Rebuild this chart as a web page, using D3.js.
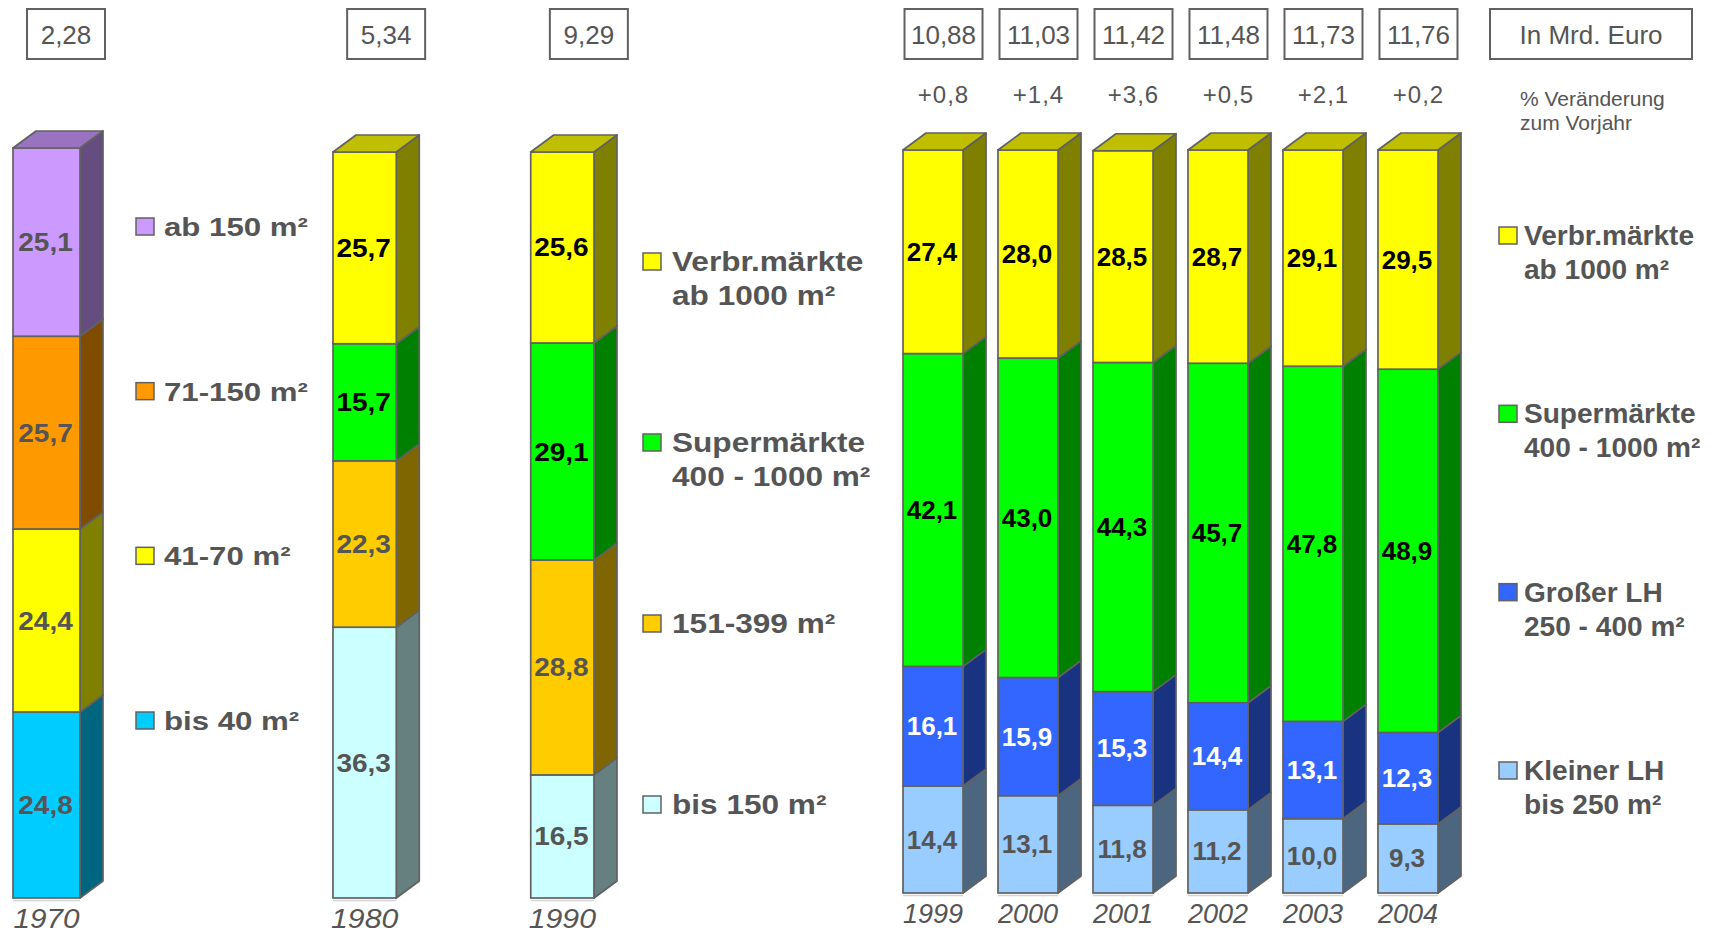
<!DOCTYPE html>
<html>
<head>
<meta charset="utf-8">
<script src="https://cdn.jsdelivr.net/npm/d3@7"></script>
<style>
html, body { margin: 0; padding: 0; background: #fff; }
svg { display: block; }
</style>
</head>
<body>
<div id="chart"></div>
<script>
// ---------------- DATA ----------------
// Panel 1970 (shares in %, bottom to top)
const years1970 = ["1970"];
const series1970 = ["bis 40 m²", "41-70 m²", "71-150 m²", "ab 150 m²"];
const values1970 = [[24.8, 24.4, 25.7, 25.1]];
const totals1970 = ["2,28"];

// Panel 1980 / 1990
const years8090 = ["1980", "1990"];
const series8090 = ["bis 150 m²", "151-399 m²", "Supermärkte\n400 - 1000 m²", "Verbr.märkte\nab 1000 m²"];
const values8090 = [[36.3, 22.3, 15.7, 25.7], [16.5, 28.8, 29.1, 25.6]];
const totals8090 = ["5,34", "9,29"];

// Panel 1999 - 2004
const yearsNew = ["1999", "2000", "2001", "2002", "2003", "2004"];
const seriesNew = ["Kleiner LH\nbis 250 m²", "Großer LH\n250 - 400 m²", "Supermärkte\n400 - 1000 m²", "Verbr.märkte\nab 1000 m²"];
const valuesNew = [
  [14.4, 16.1, 42.1, 27.4],
  [13.1, 15.9, 43.0, 28.0],
  [11.8, 15.3, 44.3, 28.5],
  [11.2, 14.4, 45.7, 28.7],
  [10.0, 13.1, 47.8, 29.1],
  [9.3, 12.3, 48.9, 29.5]
];
const totalsNew = ["10,88", "11,03", "11,42", "11,48", "11,73", "11,76"];
const changesNew = ["+0,8", "+1,4", "+3,6", "+0,5", "+2,1", "+0,2"];
const unitLabel = "In Mrd. Euro";
const changeNote = ["% Veränderung", "zum Vorjahr"];

// ---------------- STYLES ----------------
const colors1970 = ["#00CCFF", "#FFFF00", "#FF9900", "#CC99FF"];
const labelColors1970 = ["#555555", "#555555", "#555555", "#555555"];
const colors8090 = ["#CCFFFF", "#FFCC00", "#00FF00", "#FFFF00"];
const labelColors8090 = ["#555555", "#555555", "#000000", "#000000"];
const colorsNew = ["#99CCFF", "#3366FF", "#00FF00", "#FFFF00"];
const labelColorsNew = ["#555555", "#FFFFFF", "#000000", "#000000"];

const W = 1716, H = 933;
const FONT = "'Liberation Sans', Arial, Helvetica, sans-serif";
const STROKE = "#616161";
const TEXT = "#555555";
const DX = 23, DY = 17;

const svg = d3.select("#chart").append("svg")
  .attr("width", W).attr("height", H)
  .style("font-family", FONT);

function shade(c, k) {
  const r = d3.rgb(c);
  return d3.rgb(r.r * k, r.g * k, r.b * k).formatHex();
}

function drawPanel(cfg) {
  const g = svg.append("g");
  const x = d3.scaleBand().domain(cfg.years).range(cfg.xRange)
    .paddingInner(cfg.padInner).paddingOuter(0);
  const y = d3.scaleLinear().domain([0, 100]).range(cfg.yRange);
  const bw = x.bandwidth();

  const rows = cfg.years.map((yr, i) => {
    const o = { year: yr };
    cfg.series.forEach((s, j) => o[s] = cfg.values[i][j]);
    return o;
  });
  const layers = d3.stack().keys(cfg.series)(rows);
  const nL = layers.length;

  layers.forEach((layer, j) => {
    const col = cfg.colors[j];
    layer.forEach(d => {
      const x0 = x(d.data.year);
      const yb = y(d[0]), yt = y(d[1]);
      g.append("polygon")
        .attr("points", [[x0 + bw, yt], [x0 + bw + DX, yt - DY], [x0 + bw + DX, yb - DY], [x0 + bw, yb]].join(" "))
        .attr("fill", shade(col, 0.5)).attr("stroke", STROKE).attr("stroke-width", 1.7)
        .attr("stroke-linejoin", "round");
      g.append("rect")
        .attr("x", x0).attr("y", yt).attr("width", bw).attr("height", yb - yt)
        .attr("fill", col).attr("stroke", STROKE).attr("stroke-width", 1.7);
      if (j === nL - 1) {
        g.append("polygon")
          .attr("points", [[x0, yt], [x0 + DX, yt - DY], [x0 + bw + DX, yt - DY], [x0 + bw, yt]].join(" "))
          .attr("fill", shade(col, 0.75)).attr("stroke", STROKE).attr("stroke-width", 1.7)
          .attr("stroke-linejoin", "round");
      }
    });
  });

  // value labels
  layers.forEach((layer, j) => {
    layer.forEach(d => {
      const v = d.data[layer.key];
      g.append("text")
        .attr("transform", `translate(${x(d.data.year) + bw / 2 - 1},${y((d[0] + d[1]) / 2)}) scale(${cfg.labelStretch},1)`)
        .attr("dy", "0.36em")
        .attr("text-anchor", "middle")
        .attr("font-weight", "bold")
        .attr("font-size", 25)
        .attr("fill", cfg.labelColors[j])
        .text(d3.format(".1f")(v).replace(".", ","));
    });
  });

  // floor line + year labels
  cfg.years.forEach(yr => {
    g.append("line")
      .attr("x1", x(yr)).attr("x2", x(yr) + bw)
      .attr("y1", y(0) + 2.5).attr("y2", y(0) + 2.5)
      .attr("stroke", "#d4d4d4").attr("stroke-width", 1.5);
    g.append("text")
      .attr("transform", `translate(${x(yr) + bw / 2},${y(0) + 30}) scale(${cfg.yearStretch},1)`)
      .attr("text-anchor", "middle")
      .attr("font-style", "italic")
      .attr("font-size", 27)
      .attr("fill", TEXT)
      .text(yr);
  });

  // total boxes
  cfg.totals.forEach((t, i) => {
    const cx = x(cfg.years[i]) + bw / 2 + DX / 2 + cfg.boxShift[i];
    g.append("rect")
      .attr("x", cx - 39).attr("y", 9).attr("width", 78).attr("height", 50)
      .attr("fill", "#fff").attr("stroke", STROKE).attr("stroke-width", 2);
    g.append("text")
      .attr("x", cx).attr("y", 44)
      .attr("text-anchor", "middle").attr("font-size", 26).attr("fill", TEXT)
      .text(t);
    if (cfg.changes) {
      g.append("text")
        .attr("x", cx).attr("y", 103)
        .attr("text-anchor", "middle").attr("font-size", 24)
        .attr("letter-spacing", 1).attr("fill", TEXT)
        .text(cfg.changes[i]);
    }
  });

  // legend (top to bottom = reverse of stack order)
  const L = cfg.legend;
  const order = cfg.series.slice().reverse();
  const ly = d3.scalePoint().domain(order).range(L.yRange);
  order.forEach(s => {
    const j = cfg.series.indexOf(s);
    const lg = g.append("g").attr("transform", `translate(${L.x},${ly(s)})`);
    lg.append("rect")
      .attr("x", 0).attr("y", 0).attr("width", 18).attr("height", 17)
      .attr("fill", cfg.colors[j]).attr("stroke", STROKE).attr("stroke-width", 1.5);
    const tg = lg.append("g").attr("transform", `translate(${L.textDx},0) scale(${L.stretch},1)`);
    const t = tg.append("text")
      .attr("font-weight", "bold").attr("font-size", L.fontSize).attr("fill", TEXT);
    s.split("\n").forEach((line, k) => {
      t.append("tspan").attr("x", 0).attr("y", 18 + k * 34).text(line);
    });
  });
  return { x, y };
}

drawPanel({
  years: years1970, series: series1970, values: values1970, totals: totals1970,
  colors: colors1970, labelColors: labelColors1970,
  xRange: [13, 80], padInner: 0, yRange: [898, 148], boxShift: [8],
  labelStretch: 1.12, yearStretch: 1.1,
  legend: { x: 136, yRange: [218, 712], textDx: 28, stretch: 1.2, fontSize: 26 }
});

drawPanel({
  years: years8090, series: series8090, values: values8090, totals: totals8090,
  colors: colors8090, labelColors: labelColors8090,
  xRange: [333, 594], padInner: 0.68, yRange: [898, 152], boxShift: [10, 15],
  labelStretch: 1.12, yearStretch: 1.12,
  legend: { x: 643, yRange: [253, 796], textDx: 29, stretch: 1.17, fontSize: 27 }
});

drawPanel({
  years: yearsNew, series: seriesNew, values: valuesNew, totals: totalsNew, changes: changesNew,
  colors: colorsNew, labelColors: labelColorsNew,
  xRange: [903, 1438], padInner: 0.368, yRange: [893, 150], boxShift: [-1, -1, -1, -1, -1, -1],
  labelStretch: 1.04, yearStretch: 1.0,
  legend: { x: 1499, yRange: [227, 762], textDx: 25, stretch: 1.04, fontSize: 27 }
});

// unit box and note
svg.append("rect")
  .attr("x", 1490).attr("y", 9).attr("width", 202).attr("height", 50)
  .attr("fill", "#fff").attr("stroke", STROKE).attr("stroke-width", 2);
svg.append("text")
  .attr("x", 1591).attr("y", 44).attr("text-anchor", "middle")
  .attr("font-size", 26).attr("fill", TEXT).text(unitLabel);
const note = svg.append("text").attr("font-size", 21).attr("fill", TEXT);
changeNote.forEach((line, k) => {
  note.append("tspan").attr("x", 1520).attr("y", 106 + k * 24).text(line);
});
</script>
</body>
</html>
